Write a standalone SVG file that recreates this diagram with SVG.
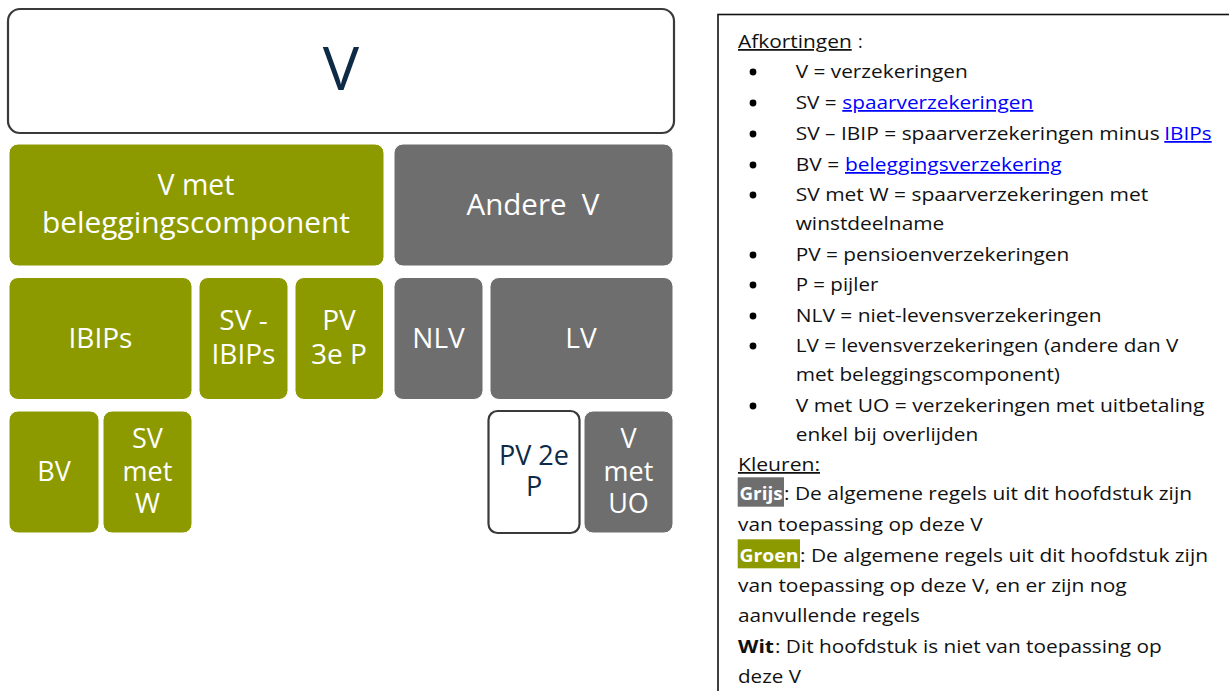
<svg xmlns="http://www.w3.org/2000/svg" width="1229" height="691" viewBox="0 0 1229 691">
  <style>
    .green { fill: #8c9a00; stroke: #ffffff; stroke-width: 1; }
    .grey { fill: #6e6e6e; stroke: #ffffff; stroke-width: 1; }
    .white { fill: #ffffff; stroke: #3a3a3a; stroke-width: 2.2; }
    .lbl { font-family: "Open Sans", "Liberation Sans", sans-serif; fill: #ffffff; text-anchor: middle; }
    .dark { fill: #0d2a47; }
    .t { font-family: "Open Sans", "Liberation Sans", sans-serif; font-size: 17.6px; fill: #111111; }
    .u { text-decoration: underline; }
    .link { fill: #0000ff; text-decoration: underline; }
    .b { font-weight: bold; }
    .hl { fill: #ffffff; font-weight: bold; }
  </style>

  <!-- category hierarchy -->
  <g id="node-v">
    <rect class="white" x="8" y="9" width="666" height="124" rx="12"/>
    <text class="lbl dark" x="341" y="90" font-size="61">V</text>
  </g>
  <g id="node-v-met-belegging">
    <rect class="green" x="9" y="144" width="375" height="122" rx="9"/>
    <text class="lbl" x="196" y="195" font-size="28.5">V met</text>
    <text class="lbl" x="196" y="233" font-size="28.5" textLength="308" lengthAdjust="spacingAndGlyphs">beleggingscomponent</text>
  </g>
  <g id="node-andere-v">
    <rect class="grey" x="394" y="144" width="279" height="122" rx="9"/>
    <text class="lbl" x="533" y="215" font-size="29.5" xml:space="preserve">Andere  V</text>
  </g>

  <g id="node-ibips">
    <rect class="green" x="9" y="277.5" width="183" height="122" rx="9"/>
    <text class="lbl" x="100.5" y="348" font-size="28">IBIPs</text>
  </g>
  <g id="node-sv-ibips">
    <rect class="green" x="199" y="277.5" width="89" height="122" rx="9"/>
    <text class="lbl" x="243.5" y="330" font-size="28">SV -</text>
    <text class="lbl" x="243.5" y="364" font-size="28">IBIPs</text>
  </g>
  <g id="node-pv-3e-p">
    <rect class="green" x="295" y="277.5" width="88.5" height="122" rx="9"/>
    <text class="lbl" x="339" y="330" font-size="28">PV</text>
    <text class="lbl" x="339" y="364" font-size="28">3e P</text>
  </g>
  <g id="node-nlv">
    <rect class="grey" x="394" y="277.5" width="89" height="122" rx="9"/>
    <text class="lbl" x="438.5" y="348" font-size="28">NLV</text>
  </g>
  <g id="node-lv">
    <rect class="grey" x="490" y="277.5" width="183" height="122" rx="9"/>
    <text class="lbl" x="581" y="348" font-size="28">LV</text>
  </g>

  <g id="node-bv">
    <rect class="green" x="9" y="411" width="90" height="122" rx="9"/>
    <text class="lbl" x="54" y="481" font-size="27">BV</text>
  </g>
  <g id="node-sv-met-w">
    <rect class="green" x="103" y="411" width="89" height="122" rx="9"/>
    <text class="lbl" x="147.5" y="448" font-size="27">SV</text>
    <text class="lbl" x="147.5" y="481" font-size="27">met</text>
    <text class="lbl" x="147.5" y="513" font-size="27">W</text>
  </g>
  <g id="node-pv-2e-p">
    <rect class="white" x="488.5" y="411" width="91" height="122" rx="9"/>
    <text class="lbl dark" x="534" y="465" font-size="27">PV 2e</text>
    <text class="lbl dark" x="534" y="496" font-size="27">P</text>
  </g>
  <g id="node-v-met-uo">
    <rect class="grey" x="584" y="411" width="89" height="122" rx="9"/>
    <text class="lbl" x="628.5" y="448" font-size="27">V</text>
    <text class="lbl" x="628.5" y="481" font-size="27">met</text>
    <text class="lbl" x="628.5" y="513" font-size="27">UO</text>
  </g>

  <g id="connectors"/>

  <!-- legend -->
  <g id="legend">
    <rect x="718" y="14.5" width="600" height="700" fill="#ffffff" stroke="#111111" stroke-width="1.6"/>

    <text class="t u" x="738" y="48" textLength="113.7" lengthAdjust="spacingAndGlyphs">Afkortingen</text>
    <text class="t" x="858" y="48">:</text>

    <g fill="#000000">
      <circle cx="753" cy="72" r="3.4"/>
      <circle cx="753" cy="103" r="3.4"/>
      <circle cx="753" cy="134" r="3.4"/>
      <circle cx="753" cy="165" r="3.4"/>
      <circle cx="753" cy="195" r="3.4"/>
      <circle cx="753" cy="255" r="3.4"/>
      <circle cx="753" cy="285" r="3.4"/>
      <circle cx="753" cy="316" r="3.4"/>
      <circle cx="753" cy="346" r="3.4"/>
      <circle cx="753" cy="406" r="3.4"/>
    </g>

    <text class="t" x="795.7" y="78" textLength="172" lengthAdjust="spacingAndGlyphs">V = verzekeringen</text>
    <text class="t" x="795.7" y="109" textLength="41" lengthAdjust="spacingAndGlyphs">SV =</text>
    <text class="t link" x="842.3" y="109" textLength="191" lengthAdjust="spacingAndGlyphs">spaarverzekeringen</text>
    <text class="t" x="795.7" y="140" textLength="364" lengthAdjust="spacingAndGlyphs">SV – IBIP = spaarverzekeringen minus</text>
    <text class="t link" x="1164.3" y="140" textLength="47.4" lengthAdjust="spacingAndGlyphs">IBIPs</text>
    <text class="t" x="795.7" y="171" textLength="43.5" lengthAdjust="spacingAndGlyphs">BV =</text>
    <text class="t link" x="845" y="171" textLength="216.7" lengthAdjust="spacingAndGlyphs">beleggingsverzekering</text>
    <text class="t" x="795.7" y="201" textLength="352.6" lengthAdjust="spacingAndGlyphs">SV met W = spaarverzekeringen met</text>
    <text class="t" x="795.7" y="230" textLength="148.6" lengthAdjust="spacingAndGlyphs">winstdeelname</text>
    <text class="t" x="795.7" y="261" textLength="273.6" lengthAdjust="spacingAndGlyphs">PV = pensioenverzekeringen</text>
    <text class="t" x="795.7" y="291" textLength="82.6" lengthAdjust="spacingAndGlyphs">P = pijler</text>
    <text class="t" x="795.7" y="322" textLength="306" lengthAdjust="spacingAndGlyphs">NLV = niet-levensverzekeringen</text>
    <text class="t" x="795.7" y="352" textLength="382.6" lengthAdjust="spacingAndGlyphs">LV = levensverzekeringen (andere dan V</text>
    <text class="t" x="795.7" y="381" textLength="264.3" lengthAdjust="spacingAndGlyphs">met beleggingscomponent)</text>
    <text class="t" x="795.7" y="412" textLength="408.6" lengthAdjust="spacingAndGlyphs">V met UO = verzekeringen met uitbetaling</text>
    <text class="t" x="795.7" y="441" textLength="182.6" lengthAdjust="spacingAndGlyphs">enkel bij overlijden</text>

    <text class="t u" x="738" y="471" textLength="82" lengthAdjust="spacingAndGlyphs">Kleuren:</text>

    <rect x="737.7" y="477.3" width="46.3" height="29.4" fill="#6e6e6e"/>
    <text class="t hl" x="739.5" y="500" textLength="43" lengthAdjust="spacingAndGlyphs">Grijs</text>
    <text class="t" x="784" y="500" textLength="408" lengthAdjust="spacingAndGlyphs">: De algemene regels uit dit hoofdstuk zijn</text>
    <text class="t" x="738" y="531" textLength="244.7" lengthAdjust="spacingAndGlyphs">van toepassing op deze V</text>

    <rect x="737.7" y="539.3" width="62.3" height="29" fill="#8c9a00"/>
    <text class="t hl" x="739.5" y="562" textLength="59" lengthAdjust="spacingAndGlyphs">Groen</text>
    <text class="t" x="800" y="562" textLength="408" lengthAdjust="spacingAndGlyphs">: De algemene regels uit dit hoofdstuk zijn</text>
    <text class="t" x="738" y="592" textLength="388.7" lengthAdjust="spacingAndGlyphs">van toepassing op deze V, en er zijn nog</text>
    <text class="t" x="738" y="622" textLength="182" lengthAdjust="spacingAndGlyphs">aanvullende regels</text>

    <text class="t b" x="738" y="652.5" textLength="36" lengthAdjust="spacingAndGlyphs">Wit</text>
    <text class="t" x="775" y="652.5" textLength="386.7" lengthAdjust="spacingAndGlyphs">: Dit hoofdstuk is niet van toepassing op</text>
    <text class="t" x="738" y="682.5" textLength="63" lengthAdjust="spacingAndGlyphs">deze V</text>
  </g>
</svg>
